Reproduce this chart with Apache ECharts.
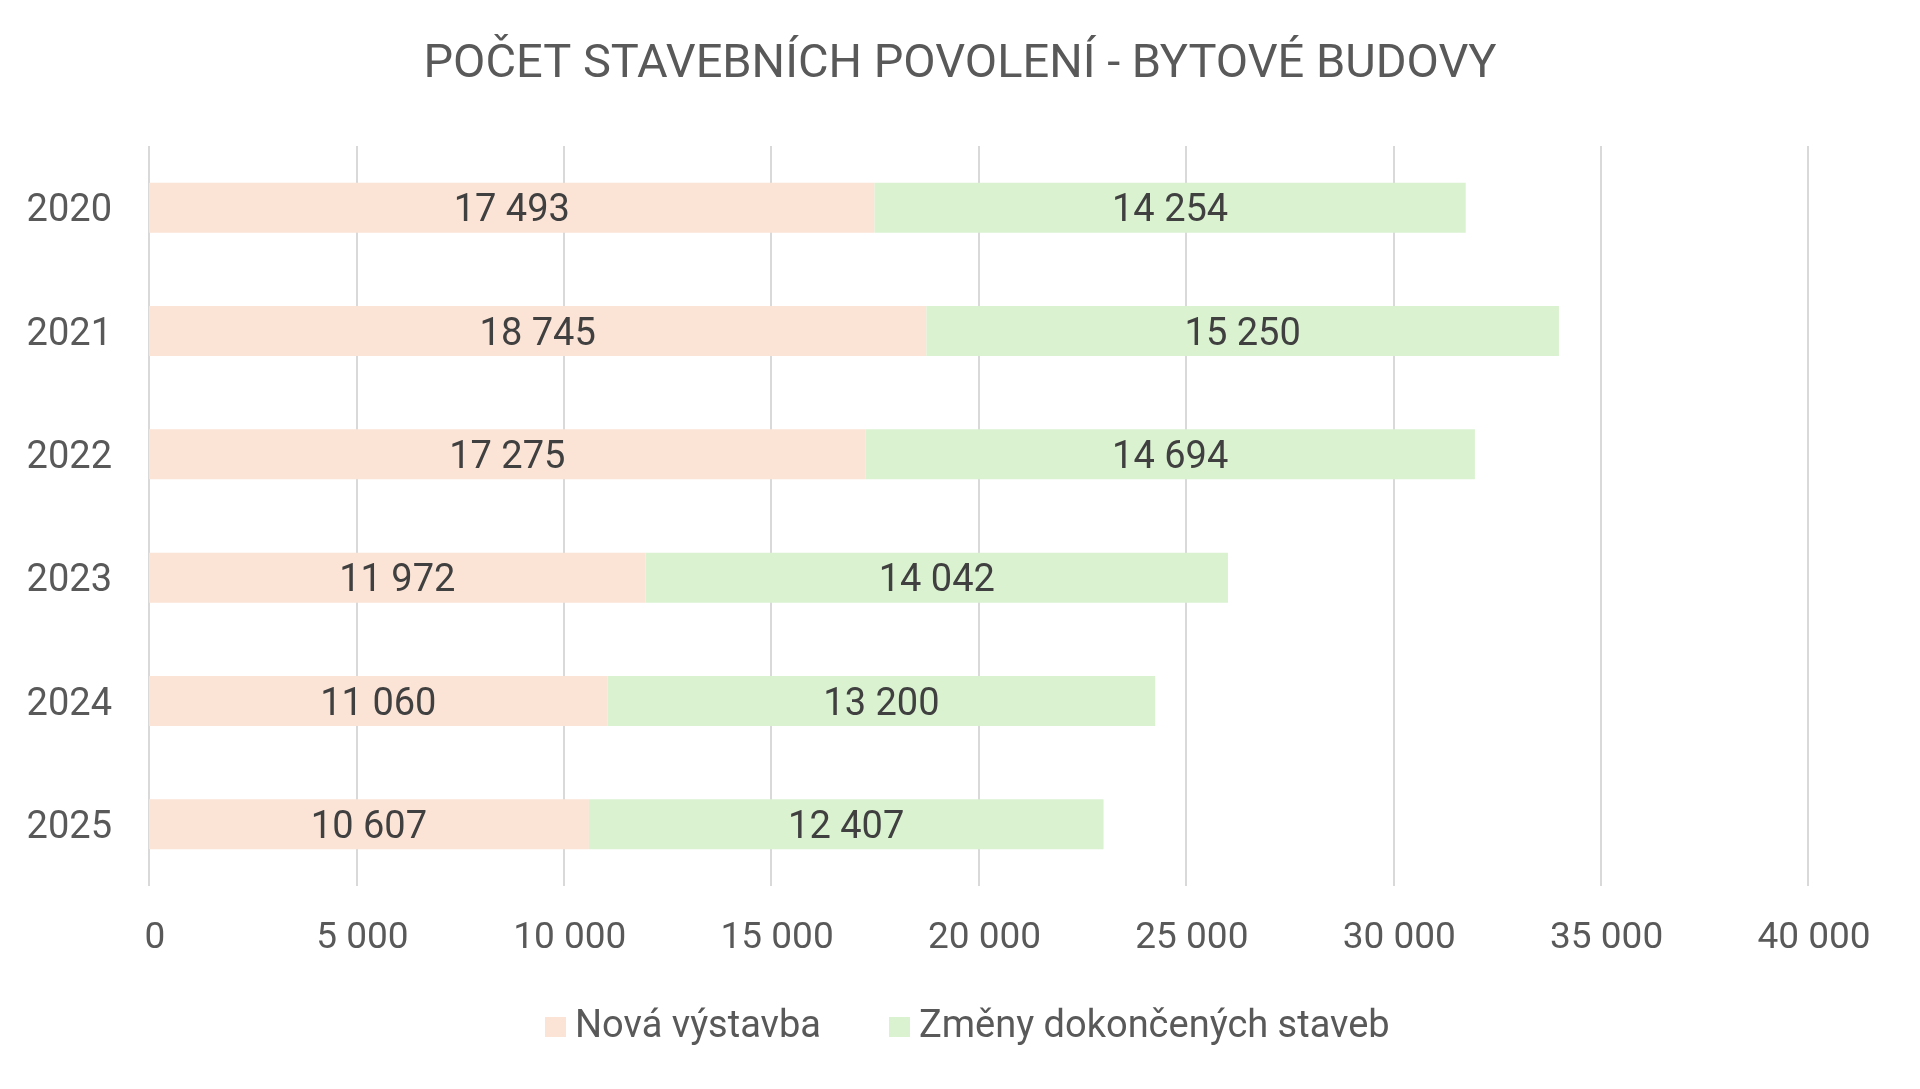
<!DOCTYPE html>
<html>
<head>
<meta charset="utf-8">
<script src="https://cdn.jsdelivr.net/npm/echarts@6/dist/echarts.min.js"></script>
<style>
  html, body { margin: 0; padding: 0; background: #fff; }
  #chart { width: 1920px; height: 1089px; }
</style>
</head>
<body>
<div id="chart"></div>
<script>
// data
const years = ["2020", "2021", "2022", "2023", "2024", "2025"];
const novaVystavba = [17493, 18745, 17275, 11972, 11060, 10607];
const zmenyStaveb = [14254, 15250, 14694, 14042, 13200, 12407];
const seriesNames = ["Nová výstavba", "Změny dokončených staveb"];

const FONT = "Roboto";

function fmt(v) {
  return String(v).replace(/\B(?=(\d{3})+(?!\d))/g, " ");
}

const dom = document.getElementById("chart");
const myChart = echarts.init(dom);

const option = {
  backgroundColor: "#ffffff",
  title: {
    text: "POČET STAVEBNÍCH POVOLENÍ - BYTOVÉ BUDOVY",
    left: "center",
    top: 37,
    textStyle: {
      fontFamily: FONT,
      fontSize: 47,
      fontWeight: "normal",
      color: "#595959",
    },
  },
  legend: {
    data: seriesNames,
    left: 540,
    top: 1003,
    itemWidth: 21,
    itemHeight: 20,
    itemGap: 68,
    icon: "rect",
    textStyle: {
      fontFamily: FONT,
      fontSize: 38,
      color: "#595959",
      padding: [0, 0, 0, 4],
    },
  },
  grid: {
    left: 149,
    right: 112,
    top: 146,
    bottom: 203,
    containLabel: false,
  },
  xAxis: {
    type: "value",
    min: 0,
    max: 40000,
    interval: 5000,
    axisLine: { show: false },
    axisTick: { show: false },
    splitLine: { lineStyle: { color: "#d9d9d9", width: 2 } },
    axisLabel: {
      margin: 34,
      fontFamily: FONT,
      fontSize: 37,
      color: "#595959",
      padding: [0, 0, 0, 12],
      formatter: (v) => fmt(v),
    },
  },
  yAxis: {
    type: "category",
    data: years,
    inverse: true,
    axisLine: { show: false },
    axisTick: { show: false },
    axisLabel: {
      margin: 37,
      color: "#595959",
      formatter: (v) => "{y|" + v + "}",
      rich: {
        y: {
          fontFamily: FONT,
          fontSize: 38,
          color: "#595959",
          padding: [8, 0, 0, 0],
        },
      },
    },
  },
  series: [
    {
      name: seriesNames[0],
      type: "bar",
      stack: "total",
      barWidth: 50,
      data: novaVystavba,
      itemStyle: { color: "#fbe3d6" },
      label: {
        show: true,
        position: "inside",
        offset: [0, 4],
        fontFamily: FONT,
        fontSize: 38,
        color: "#404040",
        formatter: (p) => fmt(p.value),
      },
    },
    {
      name: seriesNames[1],
      type: "bar",
      stack: "total",
      barWidth: 50,
      data: zmenyStaveb,
      itemStyle: { color: "#daf2d0" },
      label: {
        show: true,
        position: "inside",
        offset: [0, 4],
        fontFamily: FONT,
        fontSize: 38,
        color: "#404040",
        formatter: (p) => fmt(p.value),
      },
    },
  ],
};

myChart.setOption(option);
</script>
</body>
</html>
